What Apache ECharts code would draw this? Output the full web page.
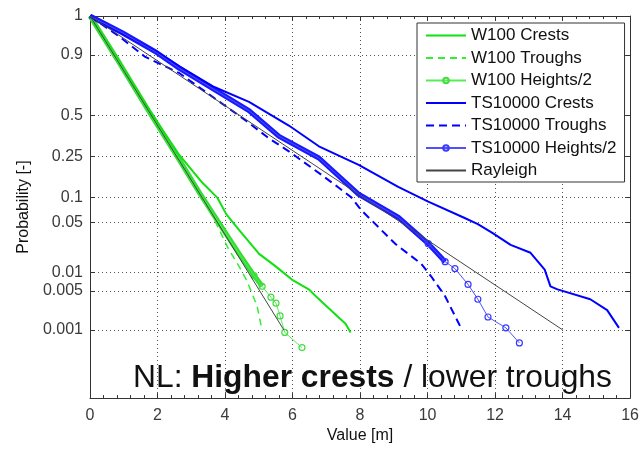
<!DOCTYPE html>
<html>
<head>
<meta charset="utf-8">
<script src="https://cdn.jsdelivr.net/npm/echarts@6/dist/echarts.min.js"></script>
<style>
html,body{margin:0;padding:0;background:#fff;}
#c{width:642px;height:449px;}
</style>
</head>
<body>
<div id="c"></div>
<script>
// ---- data (value [m], exceedance probability [-]) ----
const probTicks = [1, 0.9, 0.5, 0.25, 0.1, 0.05, 0.01, 0.005, 0.001];
const probTickLabels = ['1', '0.9', '0.5', '0.25', '0.1', '0.05', '0.01', '0.005', '0.001'];

const w100CrestX = [0, 0.88, 1.77, 2.65, 3.33, 3.77, 4.04, 4.42, 5.01, 5.51, 5.98, 6.48, 6.69, 7.16, 7.57, 7.72];
const w100CrestP = [1, 0.860, 0.533, 0.257, 0.142, 0.099, 0.0633, 0.0401, 0.0189, 0.0122, 0.00767, 0.0053, 0.00405, 0.00223, 0.0013, 0.00089];

const w100TroughX = [0, 0.88, 1.77, 2.65, 3.24, 3.68, 4.07, 4.42, 4.63, 4.80, 4.95, 5.10];
const w100TroughP = [1, 0.849, 0.512, 0.224, 0.109, 0.0552, 0.0238, 0.0122, 0.00767, 0.00454, 0.00273, 0.00096];

const w100HeightX = [0, 0.88, 1.77, 2.65, 3.24, 3.83, 4.42, 4.86, 5.10, 5.36, 5.51, 5.63, 5.77, 6.28];
const w100HeightP = [1, 0.854, 0.519, 0.233, 0.112, 0.0491, 0.0189, 0.00887, 0.00594, 0.0039, 0.00307, 0.00182, 0.00089, 0.000447];

const tsCrestX = [0, 0.97, 1.97, 2.65, 3.68, 4.71, 5.89, 6.78, 7.96, 9.13, 10.02, 11.05, 11.49, 11.93, 12.46, 13.05, 13.47, 13.64, 13.85, 14.82, 15.32, 15.67];
const tsCrestP = [1, 0.978, 0.915, 0.837, 0.702, 0.596, 0.431, 0.304, 0.211, 0.129, 0.0894, 0.0584, 0.0478, 0.0367, 0.0254, 0.0196, 0.0110, 0.00594, 0.0053, 0.0036, 0.00232, 0.00109];

const tsTroughX = [0, 0.88, 1.62, 2.65, 4.62, 5.30, 5.89, 6.86, 7.37, 7.75, 8.04, 8.34, 8.75, 9.05, 9.43, 9.81, 10.11, 10.52, 10.99];
const tsTroughP = [1, 0.970, 0.891, 0.795, 0.464, 0.350, 0.277, 0.170, 0.1264, 0.0990, 0.0706, 0.0536, 0.0356, 0.0261, 0.0189, 0.0135, 0.00856, 0.00405, 0.00109];

const tsHeightX = [0, 0.97, 1.97, 2.65, 4.71, 5.60, 6.78, 7.96, 9.13, 10.02, 10.52, 10.81, 11.20, 11.49, 11.79, 12.32, 12.72];
const tsHeightP = [1, 0.980, 0.911, 0.825, 0.533, 0.362, 0.243, 0.1076, 0.0584, 0.0264, 0.0145, 0.0114, 0.00638, 0.0036, 0.00174, 0.00109, 0.000555];

const rayTSX = [0, 14.0];
const rayTSP = [1, 0.001];
const rayW100X = [0, 5.74];
const rayW100P = [1, 0.001];

// ---- Rayleigh probability scale: sqrt(-ln p) ----
function toT(p) { return Math.sqrt(-Math.log(p)); }
function pts(xs, ps) { return xs.map((x, i) => [x, toT(ps[i])]); }
function ptsRange(xs, ps, a, b) { return pts(xs, ps).slice(a, b); }

const tickT = probTicks.map(toT);
function labelFor(v) {
  for (let i = 0; i < tickT.length; i++) if (Math.abs(tickT[i] - v) < 1e-6) return probTickLabels[i];
  return '';
}

const FONT = 'Liberation Sans, Arial, Helvetica, sans-serif';
const chart = echarts.init(document.getElementById('c'), null, {renderer: 'canvas'});

const gridLine = {show: true, lineStyle: {color: '#555', width: 1, type: [1, 3]}};
const axLine = {show: true, onZero: false, lineStyle: {color: '#333', width: 1}};
const noMark = {opacity: 0};

chart.setOption({
  animation: false,
  backgroundColor: '#fff',
  grid: {left: 90, right: 9, top: 16, bottom: 46, containLabel: false},
  xAxis: [{
    type: 'value', min: 0, max: 16, interval: 2, position: 'bottom',
    axisLine: axLine,
    axisTick: {show: true, inside: true, length: 5, lineStyle: {color: '#333'}},
    minorTick: {show: true, splitNumber: 5, length: 3, lineStyle: {color: '#333'}},
    axisLabel: {margin: 9, fontSize: 16, fontFamily: FONT, color: '#3a3a3a'},
    splitLine: gridLine,
    name: 'Value [m]', nameLocation: 'middle', nameGap: 27,
    nameTextStyle: {fontSize: 16, fontFamily: FONT, color: '#111'}
  }, {
    type: 'value', min: 0, max: 16, interval: 2, position: 'top',
    axisLine: axLine,
    axisTick: {show: true, inside: true, length: 5, lineStyle: {color: '#333'}},
    minorTick: {show: true, splitNumber: 5, length: 3, lineStyle: {color: '#333'}},
    axisLabel: {show: false}, splitLine: {show: false}
  }],
  yAxis: [{
    type: 'value', inverse: true, min: 0, max: 3.2, position: 'left',
    axisLine: axLine,
    axisTick: {show: true, inside: true, length: 5, customValues: tickT, lineStyle: {color: '#333'}},
    axisLabel: {customValues: tickT, formatter: labelFor, margin: 7, fontSize: 16, fontFamily: FONT, color: '#3a3a3a'},
    splitLine: gridLine,
    name: 'Probability [-]', nameLocation: 'middle', nameGap: 50,
    nameTextStyle: {fontSize: 16, fontFamily: FONT, color: '#111'}
  }, {
    type: 'value', inverse: true, min: 0, max: 3.2, position: 'right',
    axisLine: axLine,
    axisTick: {show: true, inside: true, length: 5, customValues: tickT, lineStyle: {color: '#333'}},
    axisLabel: {show: false}, splitLine: {show: false}
  }],
  legend: {
    orient: 'vertical', left: 417, top: 23,
    padding: [4, 8, 3, 8],
    itemWidth: 40, itemHeight: 7, itemGap: 5.5,
    backgroundColor: '#fff', borderColor: '#333', borderWidth: 1,
    selectedMode: false,
    textStyle: {fontSize: 17, lineHeight: 17, fontFamily: FONT, color: '#111'},
    data: ['W100 Crests', 'W100 Troughs', 'W100 Heights/2', 'TS10000 Crests', 'TS10000 Troughs', 'TS10000 Heights/2', 'Rayleigh']
  },
  graphic: [{
    type: 'text', left: 133, top: 362, z: 100,
    style: {
      text: '{n|NL: }{b|Higher crests}{n| / lower troughs}',
      rich: {
        n: {fontSize: 31.8, fontFamily: FONT, fill: '#111'},
        b: {fontSize: 31.8, fontFamily: FONT, fontWeight: 'bold', fill: '#111'}
      }
    }
  }],
  series: [
    {name: 'W100 Crests', type: 'line', data: pts(w100CrestX, w100CrestP), symbol: 'none',
     lineStyle: {color: '#11e011', width: 2}, itemStyle: noMark, z: 3},
    {name: 'W100 Troughs', type: 'line', data: pts(w100TroughX, w100TroughP), symbol: 'none',
     lineStyle: {color: '#33ee33', width: 1.5, type: [7, 5]}, itemStyle: noMark, z: 3},
    {name: 'W100 Heights/2', type: 'line', data: pts(w100HeightX, w100HeightP), symbol: 'circle',
     symbolSize: (v, p) => p.dataIndex >= 7 ? 6 : 0,
     lineStyle: {color: '#55ee55', width: 1}, itemStyle: {color: 'rgba(0,0,0,0)', borderColor: '#44dd44', borderWidth: 1.2}, z: 3},
    {name: 'W100 Heights/2', type: 'line', data: ptsRange(w100HeightX, w100HeightP, 0, 9), symbol: 'none',
     lineStyle: {color: '#33dd33', width: 5}, itemStyle: noMark, z: 2},
    {name: 'TS10000 Crests', type: 'line', data: pts(tsCrestX, tsCrestP), symbol: 'none',
     lineStyle: {color: '#0000ff', width: 2}, itemStyle: noMark, z: 3},
    {name: 'TS10000 Troughs', type: 'line', data: pts(tsTroughX, tsTroughP), symbol: 'none',
     lineStyle: {color: '#0000ff', width: 2, type: [8, 5]}, itemStyle: noMark, z: 3},
    {name: 'TS10000 Heights/2', type: 'line', data: pts(tsHeightX, tsHeightP), symbol: 'circle',
     symbolSize: (v, p) => p.dataIndex >= 9 ? 6 : 0,
     lineStyle: {color: '#5050ff', width: 1}, itemStyle: {color: 'rgba(0,0,0,0)', borderColor: '#3a3aff', borderWidth: 1.2}, z: 3},
    {name: 'TS10000 Heights/2', type: 'line', data: ptsRange(tsHeightX, tsHeightP, 0, 11), symbol: 'none',
     lineStyle: {color: '#1a1aff', width: 5}, itemStyle: noMark, z: 2},
    {name: 'Rayleigh', type: 'line', data: pts(rayW100X, rayW100P), symbol: 'none',
     lineStyle: {color: '#444', width: 1}, itemStyle: noMark, z: 4},
    {name: 'Rayleigh', type: 'line', data: pts(rayTSX, rayTSP), symbol: 'none',
     lineStyle: {color: '#444', width: 1}, itemStyle: noMark, z: 4}
  ]
});
</script>
</body>
</html>
